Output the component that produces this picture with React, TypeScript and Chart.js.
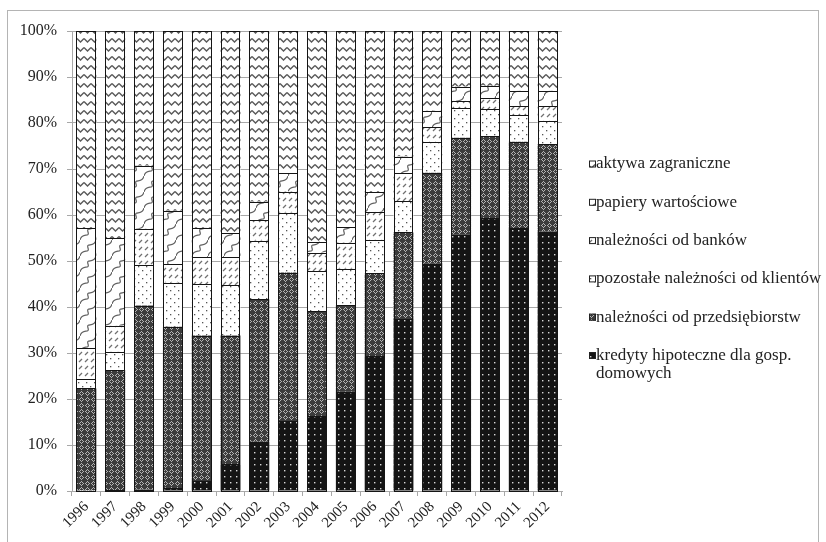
import React, { useEffect, useRef } from "react";
import { Chart, registerables } from "chart.js";
Chart.register(...registerables);

const years = ["1996", "1997", "1998", "1999", "2000", "2001", "2002", "2003", "2004", "2005", "2006", "2007", "2008", "2009", "2010", "2011", "2012"];
const kredyty = [0, 0.2, 0.3, 0.6, 2.2, 5.8, 10.7, 15.2, 16.2, 21.6, 29.3, 37.4, 49.4, 55.7, 59.3, 57.2, 56.4];
const przedsiebiorstwa = [22.3, 26.1, 40.0, 35.1, 31.6, 28.0, 31.0, 32.3, 22.9, 18.8, 18.0, 18.8, 19.8, 21.1, 17.9, 18.7, 19.0];
const pozostale = [2.0, 4.0, 8.8, 9.6, 11.1, 11.0, 12.7, 13.0, 8.7, 7.9, 7.3, 6.8, 6.6, 6.4, 5.8, 5.8, 5.1];
const banki = [6.7, 5.6, 7.9, 4.0, 5.9, 6.0, 4.5, 4.6, 4.0, 5.7, 6.1, 6.1, 3.3, 1.6, 2.4, 2.0, 3.2];
const papiery = [26.2, 19.0, 13.7, 11.6, 6.4, 5.2, 4.0, 4.0, 2.4, 3.3, 4.2, 3.6, 3.6, 3.1, 2.7, 3.3, 3.3];
const aktywa = [42.8, 45.1, 29.3, 39.1, 42.7, 44.0, 37.1, 30.9, 45.8, 42.7, 35.1, 27.3, 17.3, 12.1, 11.9, 13.0, 13.0];

// bottom-to-top stacking order
const seriesNames = [
  "kredyty hipoteczne dla gosp. domowych",
  "należności od przedsiębiorstw",
  "pozostałe należności od klientów",
  "należności od banków",
  "papiery wartościowe",
  "aktywa zagraniczne",
];
const seriesValues = [kredyty, przedsiebiorstwa, pozostale, banki, papiery, aktywa];

const FONT = "'Liberation Serif', 'Times New Roman', serif";

function makePattern(w: number, h: number, draw: (c: CanvasRenderingContext2D) => void): CanvasPattern | string {
  const cv = document.createElement("canvas");
  cv.width = w;
  cv.height = h;
  const c = cv.getContext("2d");
  if (!c) return "#888";
  draw(c);
  const p = c.createPattern(cv, "repeat");
  return p || "#888";
}

function buildPatterns() {
  const black = makePattern(6, 6, (c) => {
    c.fillStyle = "#141414";
    c.fillRect(0, 0, 6, 6);
    c.fillStyle = "#d8d8d8";
    c.fillRect(2, 2, 1.4, 1.4);
  });
  const cross = makePattern(6, 6, (c) => {
    c.fillStyle = "#3c3c3c";
    c.fillRect(0, 0, 6, 6);
    c.fillStyle = "#b4b4b4";
    const pts = [[3, 1], [1, 3], [5, 3], [3, 5], [2, 2], [4, 2], [2, 4], [4, 4]];
    pts.forEach(([x, y]) => c.fillRect(x, y, 1, 1));
  });
  const dots = makePattern(8, 8, (c) => {
    c.fillStyle = "#ffffff";
    c.fillRect(0, 0, 8, 8);
    c.fillStyle = "#555";
    c.fillRect(2, 2, 1.3, 1.3);
    c.fillRect(6, 6, 1.3, 1.3);
  });
  const dashes = makePattern(6, 7, (c) => {
    c.fillStyle = "#ffffff";
    c.fillRect(0, 0, 6, 7);
    c.strokeStyle = "#707070";
    c.lineWidth = 1.2;
    c.beginPath();
    c.moveTo(1, 5);
    c.lineTo(4, 2);
    c.stroke();
  });
  const curvy = makePattern(16, 16, (c) => {
    c.fillStyle = "#ffffff";
    c.fillRect(0, 0, 16, 16);
    c.strokeStyle = "#606060";
    c.lineWidth = 1.2;
    c.beginPath();
    c.moveTo(0, 16);
    c.bezierCurveTo(2, 8, 10, 14, 8, 8);
    c.bezierCurveTo(6, 2, 14, 8, 16, 0);
    c.stroke();
  });
  const zigzag = makePattern(7, 9, (c) => {
    c.fillStyle = "#ffffff";
    c.fillRect(0, 0, 7, 9);
    c.strokeStyle = "#5a5a5a";
    c.lineWidth = 1.4;
    c.beginPath();
    c.moveTo(0, 2.5);
    c.lineTo(3.5, 6);
    c.lineTo(7, 2.5);
    c.stroke();
  });
  return [black, cross, dots, dashes, curvy, zigzag];
}

const framePlugin = {
  id: "frame",
  beforeDraw(chart: any) {
    const ctx = chart.ctx;
    ctx.save();
    ctx.fillStyle = "#ffffff";
    ctx.fillRect(0, 0, chart.width, chart.height);
    ctx.strokeStyle = "#b4b4b4";
    ctx.lineWidth = 1;
    ctx.strokeRect(7.5, 10.5, 811, 600);
    ctx.restore();
  },
};

// crisp 1px outlines around every bar segment
const outlinePlugin = {
  id: "outline",
  afterDatasetsDraw(chart: any) {
    const ctx = chart.ctx;
    ctx.save();
    ctx.strokeStyle = "#151515";
    ctx.lineWidth = 1;
    chart.data.datasets.forEach((_: any, i: number) => {
      const meta = chart.getDatasetMeta(i);
      meta.data.forEach((el: any) => {
        const p = el.getProps(["x", "y", "base", "width"], true);
        const l = Math.round(p.x - p.width / 2) + 0.5;
        const r = Math.round(p.x + p.width / 2) - 0.5;
        const t = Math.round(Math.min(p.y, p.base)) + 0.5;
        const b = Math.round(Math.max(p.y, p.base)) + 0.5;
        ctx.strokeRect(l, t, r - l, b - t);
      });
    });
    ctx.restore();
  },
};

const legendPlugin = {
  id: "customLegend",
  afterDraw(chart: any) {
    const ctx = chart.ctx;
    const ds = chart.data.datasets;
    ctx.save();
    ctx.font = `17px ${FONT}`;
    ctx.textBaseline = "middle";
    const boxX = 589;
    const textX = 596;
    const maxW = 228;
    let y = 164;
    for (let i = ds.length - 1; i >= 0; i--) {
      const d = ds[i];
      ctx.fillStyle = d.backgroundColor;
      ctx.fillRect(boxX, y - 3.5, 7, 7);
      ctx.strokeStyle = "#222";
      ctx.lineWidth = 1;
      ctx.strokeRect(boxX + 0.5, y - 3.5 + 0.5, 6, 6);
      const words = String(d.label).split(" ");
      const lines: string[] = [];
      let cur = "";
      words.forEach((w) => {
        const t = cur ? cur + " " + w : w;
        if (ctx.measureText(t).width > maxW && cur) {
          lines.push(cur);
          cur = w;
        } else cur = t;
      });
      if (cur) lines.push(cur);
      ctx.fillStyle = "#222";
      lines.forEach((ln, k) => ctx.fillText(ln, textX, y + k * 18));
      y += 38.3;
    }
    ctx.restore();
  },
};

export default function App() {
  const ref = useRef<HTMLCanvasElement | null>(null);
  useEffect(() => {
    if (!ref.current) return;
    const pats = buildPatterns();
    const chart = new Chart(ref.current, {
      type: "bar",
      data: {
        labels: years,
        datasets: seriesValues.map((vals, i) => ({
          label: seriesNames[i],
          data: vals,
          backgroundColor: pats[i] as any,
          borderWidth: 0,
          barPercentage: 0.69,
          categoryPercentage: 1,
        })),
      },
      options: {
        responsive: false,
        animation: false,
        devicePixelRatio: 1,
        layout: { padding: { left: 0, right: 264, top: 31, bottom: 0 } },
        plugins: { legend: { display: false }, tooltip: { enabled: false } },
        scales: {
          x: {
            stacked: true,
            afterFit: (a: any) => { a.height = 51; },
            grid: { drawOnChartArea: false, drawTicks: true, tickLength: 5, color: "#a8a8a8", offset: true },
            border: { display: true, color: "#a8a8a8" },
            ticks: { color: "#222", autoSkip: false, font: { family: FONT, size: 15 }, minRotation: 45, maxRotation: 45, padding: 2 },
          },
          y: {
            stacked: true,
            min: 0,
            max: 100,
            afterFit: (a: any) => { a.width = 72; },
            grid: { color: "#a8a8a8", tickLength: 5 },
            border: { display: true, color: "#a8a8a8" },
            ticks: { stepSize: 10, color: "#222", padding: 10, font: { family: FONT, size: 16 }, callback: (v: any) => v + "%" },
          },
        },
      },
      plugins: [framePlugin, outlinePlugin, legendPlugin],
    });
    return () => chart.destroy();
  }, []);
  return (
    <div style={{ position: "fixed", left: 0, top: 0, width: 826, height: 542, background: "#fff" }}>
      <canvas ref={ref} width={826} height={542} style={{ width: 826, height: 542, display: "block" }} />
    </div>
  );
}
